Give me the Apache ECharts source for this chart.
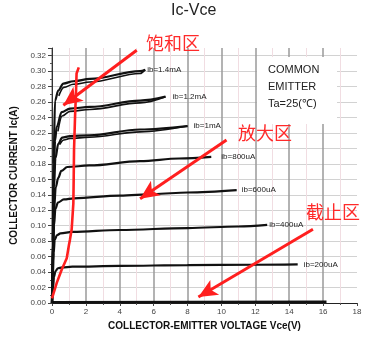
<!DOCTYPE html>
<html>
<head>
<meta charset="utf-8">
<script src="https://cdn.jsdelivr.net/npm/echarts@6/dist/echarts.min.js"></script>
<style>
  html, body { margin: 0; padding: 0; background: #fff; }
  #chart { width: 376px; height: 340px; }
</style>
</head>
<body>
<div id="chart"></div>
<script>
// Output characteristics of a BJT in common-emitter mode: [Vce (V), Ic (A)]
const ib0 = [[0, 0.001], [8, 0.0012], [16.2, 0.0015]];
const ib200 = [[0, 0], [0.06, 0.02], [0.12, 0.034], [0.2, 0.041], [0.35, 0.045], [0.6, 0.046], [1.2, 0.047], [4, 0.048], [8, 0.049], [12, 0.0495], [14.5, 0.050]];
const ib400 = [[0, 0], [0.05, 0.035], [0.1, 0.065], [0.16, 0.082], [0.3, 0.088], [0.5, 0.090], [1.2, 0.092], [4, 0.0945], [8, 0.097], [11, 0.099], [12.7, 0.101]];
const ib600 = [[0, 0], [0.06, 0.05], [0.12, 0.1], [0.2, 0.122], [0.35, 0.130], [0.7, 0.134], [1.3, 0.1355], [4, 0.139], [6, 0.141], [8, 0.143], [10.9, 0.146]];
const ib800 = [[0, 0], [0.06, 0.06], [0.12, 0.12], [0.22, 0.15], [0.37, 0.162], [0.55, 0.171], [0.9, 0.176], [2.2, 0.178], [5.2, 0.1836], [7.5, 0.187], [9.4, 0.189]];
const ib1000 = [[0, 0], [0.06, 0.08], [0.12, 0.15], [0.2, 0.187], [0.37, 0.206], [0.6, 0.214], [1.06, 0.216], [2.2, 0.217], [5.2, 0.2245], [8.0, 0.229]];
const ib1000Return = [[0.45, 0.205], [0.7, 0.211], [1.06, 0.213], [2.2, 0.2145], [5.2, 0.2215], [8.0, 0.229]];
const ib1200 = [[0, 0], [0.05, 0.08], [0.1, 0.16], [0.18, 0.21], [0.28, 0.228], [0.57, 0.247], [1.06, 0.2516], [2.24, 0.2537], [5.2, 0.262], [6.7, 0.267]];
const ib1200Return = [[0.35, 0.222], [0.6, 0.242], [1.06, 0.248], [2.24, 0.2505], [5.2, 0.259], [6.7, 0.267]];
const ib1400 = [[0, 0], [0.04, 0.08], [0.09, 0.18], [0.18, 0.262], [0.37, 0.275], [0.67, 0.284], [1.26, 0.287], [2.24, 0.290], [5.2, 0.300], [5.5, 0.302]];
const ib1400Return = [[0.4, 0.268], [0.7, 0.279], [1.26, 0.283], [2.24, 0.286], [5.2, 0.297], [5.5, 0.302]];

// Hand-drawn saturation boundary
const satBoundary = [[0, 0.006], [0.28, 0.026], [0.57, 0.043], [0.87, 0.058], [1.0, 0.075], [1.06, 0.082], [1.16, 0.095], [1.26, 0.129], [1.28, 0.161], [1.3, 0.198], [1.36, 0.241], [1.42, 0.275], [1.45, 0.297], [1.58, 0.305]];

// Region arrows: [tail, head]
const arrowSat = [[5.0, 0.327], [0.67, 0.256]];
const arrowAmp = [[10.3, 0.211], [5.2, 0.135]];
const arrowCut = [[15.4, 0.0955], [8.64, 0.0077]];

const curves = [
  { name: 'ib=200uA', data: ib200, dist: 6 },
  { name: 'ib=400uA', data: ib400, dist: 2 },
  { name: 'ib=600uA', data: ib600, dist: 5 },
  { name: 'ib=800uA', data: ib800, dist: 10 },
  { name: 'ib=1mA', data: ib1000, dist: 6 },
  { name: 'ib=1.2mA', data: ib1200, dist: 7 },
  { name: 'ib=1.4mA', data: ib1400, dist: 2 }
];
const returnTraces = [ib1000Return, ib1200Return, ib1400Return];

const curveLine = { color: '#111', width: 2.2 };
const series = [];
series.push({ type: 'line', data: ib0, showSymbol: false, lineStyle: { color: '#111', width: 2.6 }, z: 3 });
curves.forEach(c => {
  series.push({
    type: 'line', name: c.name, data: c.data, showSymbol: false,
    smooth: 0.35, smoothMonotone: 'x',
    lineStyle: curveLine, z: 3,
    endLabel: { show: true, formatter: c.name, distance: c.dist, fontSize: 8, color: '#222', fontFamily: 'Liberation Sans, Arial, sans-serif' }
  });
});
returnTraces.forEach(d => {
  series.push({ type: 'line', data: d, showSymbol: false, smooth: 0.35, smoothMonotone: 'x', lineStyle: { color: '#111', width: 1.6 }, z: 3 });
});
const arrowItem = a => [{ coord: a[0] }, { coord: a[1] }];
series.push({
  type: 'line', data: satBoundary, showSymbol: false,
  lineStyle: { color: '#ff1f1f', width: 2.6 }, z: 5,
  markLine: {
    silent: true, symbol: ['none', 'arrow'], symbolSize: [13, 19],
    label: { show: false },
    lineStyle: { color: '#ff1f1f', width: 3, type: 'solid', opacity: 1 },
    emphasis: { disabled: true },
    data: [arrowItem(arrowSat), arrowItem(arrowAmp), arrowItem(arrowCut)]
  }
});

const font = 'Liberation Sans, Arial, sans-serif';
const cjk = 'Noto Sans CJK SC, sans-serif';

const chart = echarts.init(document.getElementById('chart'), null, { renderer: 'canvas' });
chart.setOption({
  animation: false,
  title: {
    text: 'Ic-Vce', left: 171, top: 3, padding: 0,
    textStyle: { fontSize: 16, fontWeight: 'normal', color: '#222', fontFamily: font }
  },
  grid: { left: 52, right: 19, top: 48, bottom: 37 },
  xAxis: {
    type: 'value', min: 0, max: 18, interval: 2,
    name: 'COLLECTOR-EMITTER VOLTAGE Vce(V)', nameLocation: 'middle', nameGap: 18,
    nameTextStyle: { fontSize: 10, fontWeight: 'bold', color: '#111', fontFamily: font },
    axisLine: { lineStyle: { color: '#222', width: 1 } },
    axisTick: { length: 3, lineStyle: { color: '#444' } },
    minorTick: { show: true, splitNumber: 2, length: 2, lineStyle: { color: '#555' } },
    axisLabel: { fontSize: 8, color: '#444', margin: 5, fontFamily: font },
    splitLine: { show: true, showMaxLine: false, lineStyle: { color: '#9a9a9a', width: 1.5 } },
    minorSplitLine: { show: true, lineStyle: { color: '#f1dde2', width: 1 } }
  },
  yAxis: {
    type: 'value', min: 0, max: 0.33, interval: 0.02,
    name: 'COLLECTOR CURRENT Ic(A)', nameLocation: 'middle', nameGap: 27,
    nameTextStyle: { fontSize: 10, fontWeight: 'bold', color: '#111', fontFamily: font },
    axisLine: { show: true, lineStyle: { color: '#333', width: 1 } },
    axisTick: { show: true, length: 4, lineStyle: { color: '#444' } },
    minorTick: { show: true, splitNumber: 2, length: 2, lineStyle: { color: '#555' } },
    axisLabel: { fontSize: 8, color: '#444', margin: 6, fontFamily: font, showMaxLabel: false, formatter: v => v.toFixed(2) },
    splitLine: { show: true, showMaxLine: false, lineStyle: { color: '#d2d2d2', width: 1.2 } }
  },
  graphic: [
    { type: 'rect', shape: { x: 257, y: 57, width: 80, height: 67 }, style: { fill: '#fff' }, z: 1 },
    { type: 'text', x: 268, y: 70, style: { text: 'COMMON', fontSize: 11, fontFamily: font, fill: '#222', verticalAlign: 'middle' }, z: 10 },
    { type: 'text', x: 268, y: 87, style: { text: 'EMITTER', fontSize: 11, fontFamily: font, fill: '#222', verticalAlign: 'middle' }, z: 10 },
    { type: 'text', x: 268, y: 104, style: { text: 'Ta=25(℃)', fontSize: 11, fontFamily: font, fill: '#222', verticalAlign: 'middle' }, z: 10 },
    { type: 'text', x: 146, y: 43, style: { text: '饱和区', fontSize: 18, fontFamily: cjk, fill: '#ff2a2a', verticalAlign: 'middle' }, z: 10 },
    { type: 'text', x: 238, y: 133, style: { text: '放大区', fontSize: 18, fontFamily: cjk, fill: '#ff2a2a', verticalAlign: 'middle' }, z: 10 },
    { type: 'text', x: 306, y: 212, style: { text: '截止区', fontSize: 18, fontFamily: cjk, fill: '#ff2a2a', verticalAlign: 'middle' }, z: 10 }
  ],
  series: series
});
</script>
</body>
</html>
